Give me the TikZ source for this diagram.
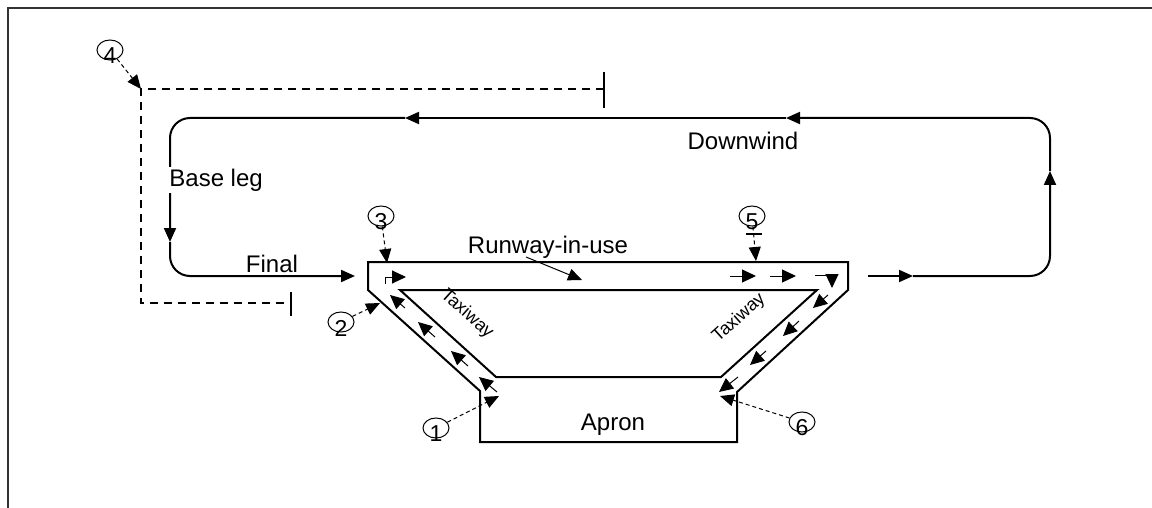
\documentclass[tikz,border=0pt]{standalone}
\usepackage{fontspec}
\setmainfont{Liberation Sans}
\usetikzlibrary{arrows.meta,shapes.geometric}
\tikzset{
  flight/.style={line width=1pt},
  flightarr/.style={flight,-{Triangle[length=7pt,width=6pt]}},
  circdash/.style={line width=1pt,dash pattern=on 4pt off 3pt},
  taxi/.style={line width=0.5pt,-{Triangle[length=7pt,width=6.5pt]}},
  callout/.style={line width=0.5pt,dash pattern=on 2pt off 1.5pt,-{Triangle[length=7pt,width=6pt]}},
  numcirc/.style={draw,ellipse,line width=0.5pt,minimum width=13pt,minimum height=10pt,inner sep=0pt},
  numtxt/.style={font=\fontsize{11.5}{11.5}\selectfont,inner sep=0pt},
  lbl/.style={font=\fontsize{12}{14}\selectfont,inner sep=1pt},
  twtxt/.style={font=\fontsize{9}{9}\selectfont,inner sep=0pt}
}
\begin{document}
\begin{tikzpicture}[x=0.5pt,y=-0.5pt]
  \useasboundingbox (0,0) rectangle (1152,508);
  % frame
  \draw[line width=0.8pt,black!80] (8,508) -- (8,8) -- (1152,8);

  % dashed area
  \draw[circdash] (604,89) -- (141,89) -- (141,303) -- (291,303);
  \draw[line width=0.6pt] (604,72) -- (604,108);
  \draw[line width=0.6pt] (291,292) -- (291,316);

  % circuit
  \coordinate (dwA) at (786,118);
  \coordinate (dwB) at (405,118);
  \coordinate (tl) at (170,118);
  \coordinate (bl) at (170,276);
  \coordinate (base) at (170,242);
  \coordinate (fin) at (355,276);
  \coordinate (up0) at (868,276);
  \coordinate (up1) at (913,276);
  \coordinate (br) at (1050,276);
  \coordinate (cw) at (1050,171);
  \coordinate (tr) at (1050,118);
  \draw[flightarr] (dwA) -- (dwB);
  \draw[flightarr,rounded corners=10pt] (dwB) -- (tl) -- (base);
  \draw[flightarr,rounded corners=10pt] (base) -- (bl) -- (fin);
  \draw[flightarr] (up0) -- (up1);
  \draw[flightarr,rounded corners=10pt] (up1) -- (br) -- (cw);
  \draw[flightarr,rounded corners=10pt] (cw) -- (tr) -- (dwA);

  \node[lbl,fill=white,anchor=west] (bleg) at (167,180) {Base leg};
  \node[lbl] (final) at (272,264) {Final};
  \node[lbl] (dwind) at (743,141) {Downwind};

  % runway, taxiways, apron
  \draw[flight] (480,442) -- (480,391) -- (368,290) -- (368,262) -- (848,262)
    -- (848,290) -- (737,392) -- (737,442) -- cycle;
  \draw[flight] (400,290) -- (817,290) -- (721,377) -- (496,377) -- cycle;
  \node[lbl] (apron) at (613,425) {Apron};
  \node[lbl] (rwy) at (548,247) {Runway-in-use};
  \draw[line width=0.5pt,-{Triangle[length=7pt,width=6pt]}] (526,257) -- (582,280);
  \node[twtxt,rotate=-42] (twl) at (467,314) {Taxiway};
  \node[twtxt,rotate=42] (twr) at (739,318) {Taxiway};

  % taxi arrows
  \draw[taxi] (385,284) -- (385,277) -- (406,277);
  \draw[taxi] (730,276) -- (756,276);
  \draw[taxi] (770,276) -- (796,276);
  \draw[taxi] (815,275) -- (832,275) -- (832,288);
  \draw[taxi] (405,308) -- (390,295);
  \draw[taxi] (435,337) -- (418,322);
  \draw[taxi] (468,366) -- (451,351);
  \draw[taxi] (497,392) -- (479,377);
  \draw[taxi] (828,295) -- (813,308);
  \draw[taxi] (799,321) -- (783,336);
  \draw[taxi] (766,351) -- (750,365);
  \draw[taxi] (738,377) -- (719,392);

  % numbered points
  \coordinate (t1) at (499,396);
  \coordinate (t2) at (380,303);
  \coordinate (t3) at (387,263);
  \coordinate (t4) at (141,89);
  \coordinate (t5) at (756,261);
  \coordinate (t6) at (720,396);
  \node[numcirc] (c1) at (436,428) {};
  \node[numcirc] (c2) at (341,322) {};
  \node[numcirc] (c3) at (381,216) {};
  \node[numcirc] (c4) at (110,50) {};
  \node[numcirc] (c5) at (752,216) {};
  \node[numcirc] (c6) at (802,422) {};
  \foreach \n in {1,...,6}
    \node[numtxt] at ([yshift=-3pt]c\n.center) {\n};
  \draw[line width=0.6pt] (746,234) -- (762,234);
  \foreach \n in {1,...,6}
    \draw[callout] (c\n) -- (t\n);
\end{tikzpicture}
\end{document}
